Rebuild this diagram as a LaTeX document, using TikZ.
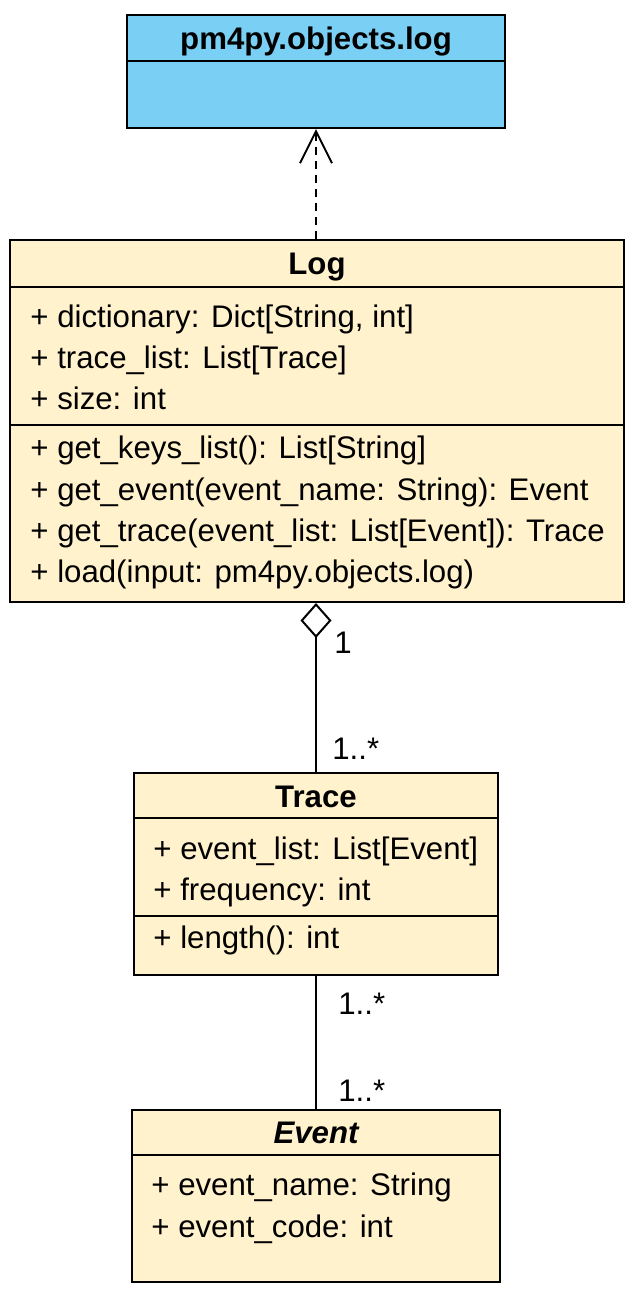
\documentclass[tikz,border=0pt]{standalone}
\usepackage{fontspec}
\setmainfont{Liberation Sans}
\usetikzlibrary{arrows.meta,fit}
\definecolor{pkgblue}{RGB}{122,207,244}
\definecolor{classyellow}{RGB}{255,242,204}
\begin{document}
\begin{tikzpicture}[x=0.5pt, y=-0.5pt,
    classbox/.style={draw, line width=1pt, inner sep=0pt},
    member/.style={anchor=west, inner sep=0pt, yshift=-1.5pt, font=\fontsize{15.6}{18}\selectfont, text height=11.4pt, text depth=3.3pt},
    classname/.style={inner sep=0pt, yshift=-1.5pt, font=\fontsize{15.6}{18}\selectfont\bfseries, text height=11.4pt, text depth=3.3pt},
    mult/.style={anchor=west, inner sep=0pt, yshift=-1pt, font=\fontsize{15.6}{18}\selectfont, text height=11.4pt, text depth=3.3pt}]
  \useasboundingbox (0,0) rectangle (641,1297);

  % Package: pm4py.objects.log
  \node[classbox, fill=pkgblue, fit={(127,15) (505,128)}] (pkg) {};
  \draw[line width=1pt] (127,61) -- (505,61);
  \node[classname] (pkgname) at (316,38) {pm4py.objects.log};

  % Class: Log
  \node[classbox, fill=classyellow, fit={(10,240) (624,602)}] (log) {};
  \draw[line width=1pt] (10,287) -- (624,287);
  \draw[line width=1pt] (10,425) -- (624,425);
  \node[classname] (logname) at (317,263) {Log};
  \node[member] (logA1) at (30,316) {+ dictionary: Dict[String, int]};
  \node[member] (logA2) at (30,357) {+ trace\_list: List[Trace]};
  \node[member] (logA3) at (30,398) {+ size: int};
  \node[member] (logM1) at (30,447) {+ get\_keys\_list(): List[String]};
  \node[member] (logM2) at (30,489) {+ get\_event(event\_name: String): Event};
  \node[member] (logM3) at (30,530) {+ get\_trace(event\_list: List[Event]): Trace};
  \node[member] (logM4) at (30,571) {+ load(input: pm4py.objects.log)};

  % Class: Trace
  \node[classbox, fill=classyellow, fit={(134,773) (498,975)}] (trace) {};
  \draw[line width=1pt] (134,818) -- (498,818);
  \draw[line width=1pt] (134,916) -- (498,916);
  \node[classname] (tracename) at (316,796) {Trace};
  \node[member] (traceA1) at (153,848) {+ event\_list: List[Event]};
  \node[member] (traceA2) at (153,889) {+ frequency: int};
  \node[member] (traceM1) at (153,937) {+ length(): int};

  % Class: Event (abstract)
  \node[classbox, fill=classyellow, fit={(132,1110) (500,1282)}] (event) {};
  \draw[line width=1pt] (132,1155) -- (500,1155);
  \node[classname, font=\fontsize{15.6}{18}\selectfont\bfseries\itshape] (eventname) at (316,1132) {Event};
  \node[member] (eventA1) at (151,1184) {+ event\_name: String};
  \node[member] (eventA2) at (151,1226) {+ event\_code: int};

  % Realization Log -> package
  \draw[line width=1pt, dash pattern=on 4pt off 3pt, -{Straight Barb[length=16pt, width=16pt]}] (pkg.south |- log.north) -- (pkg.south);

  % Aggregation Log <>-- Trace
  \draw[line width=1pt, {Diamond[open, length=17.5pt, width=15.5pt]}-] (trace.north |- log.south) -- (trace.north);
  \node[mult] (logend) at (334,643) {1};
  \node[mult] (traceend) at (332,749) {1..*};

  % Association Trace -- Event
  \draw[line width=1pt] (trace.south) -- (trace.south |- event.north);
  \node[mult] (traceend2) at (338,1004) {1..*};
  \node[mult] (eventend) at (338,1091) {1..*};
\end{tikzpicture}
\end{document}
